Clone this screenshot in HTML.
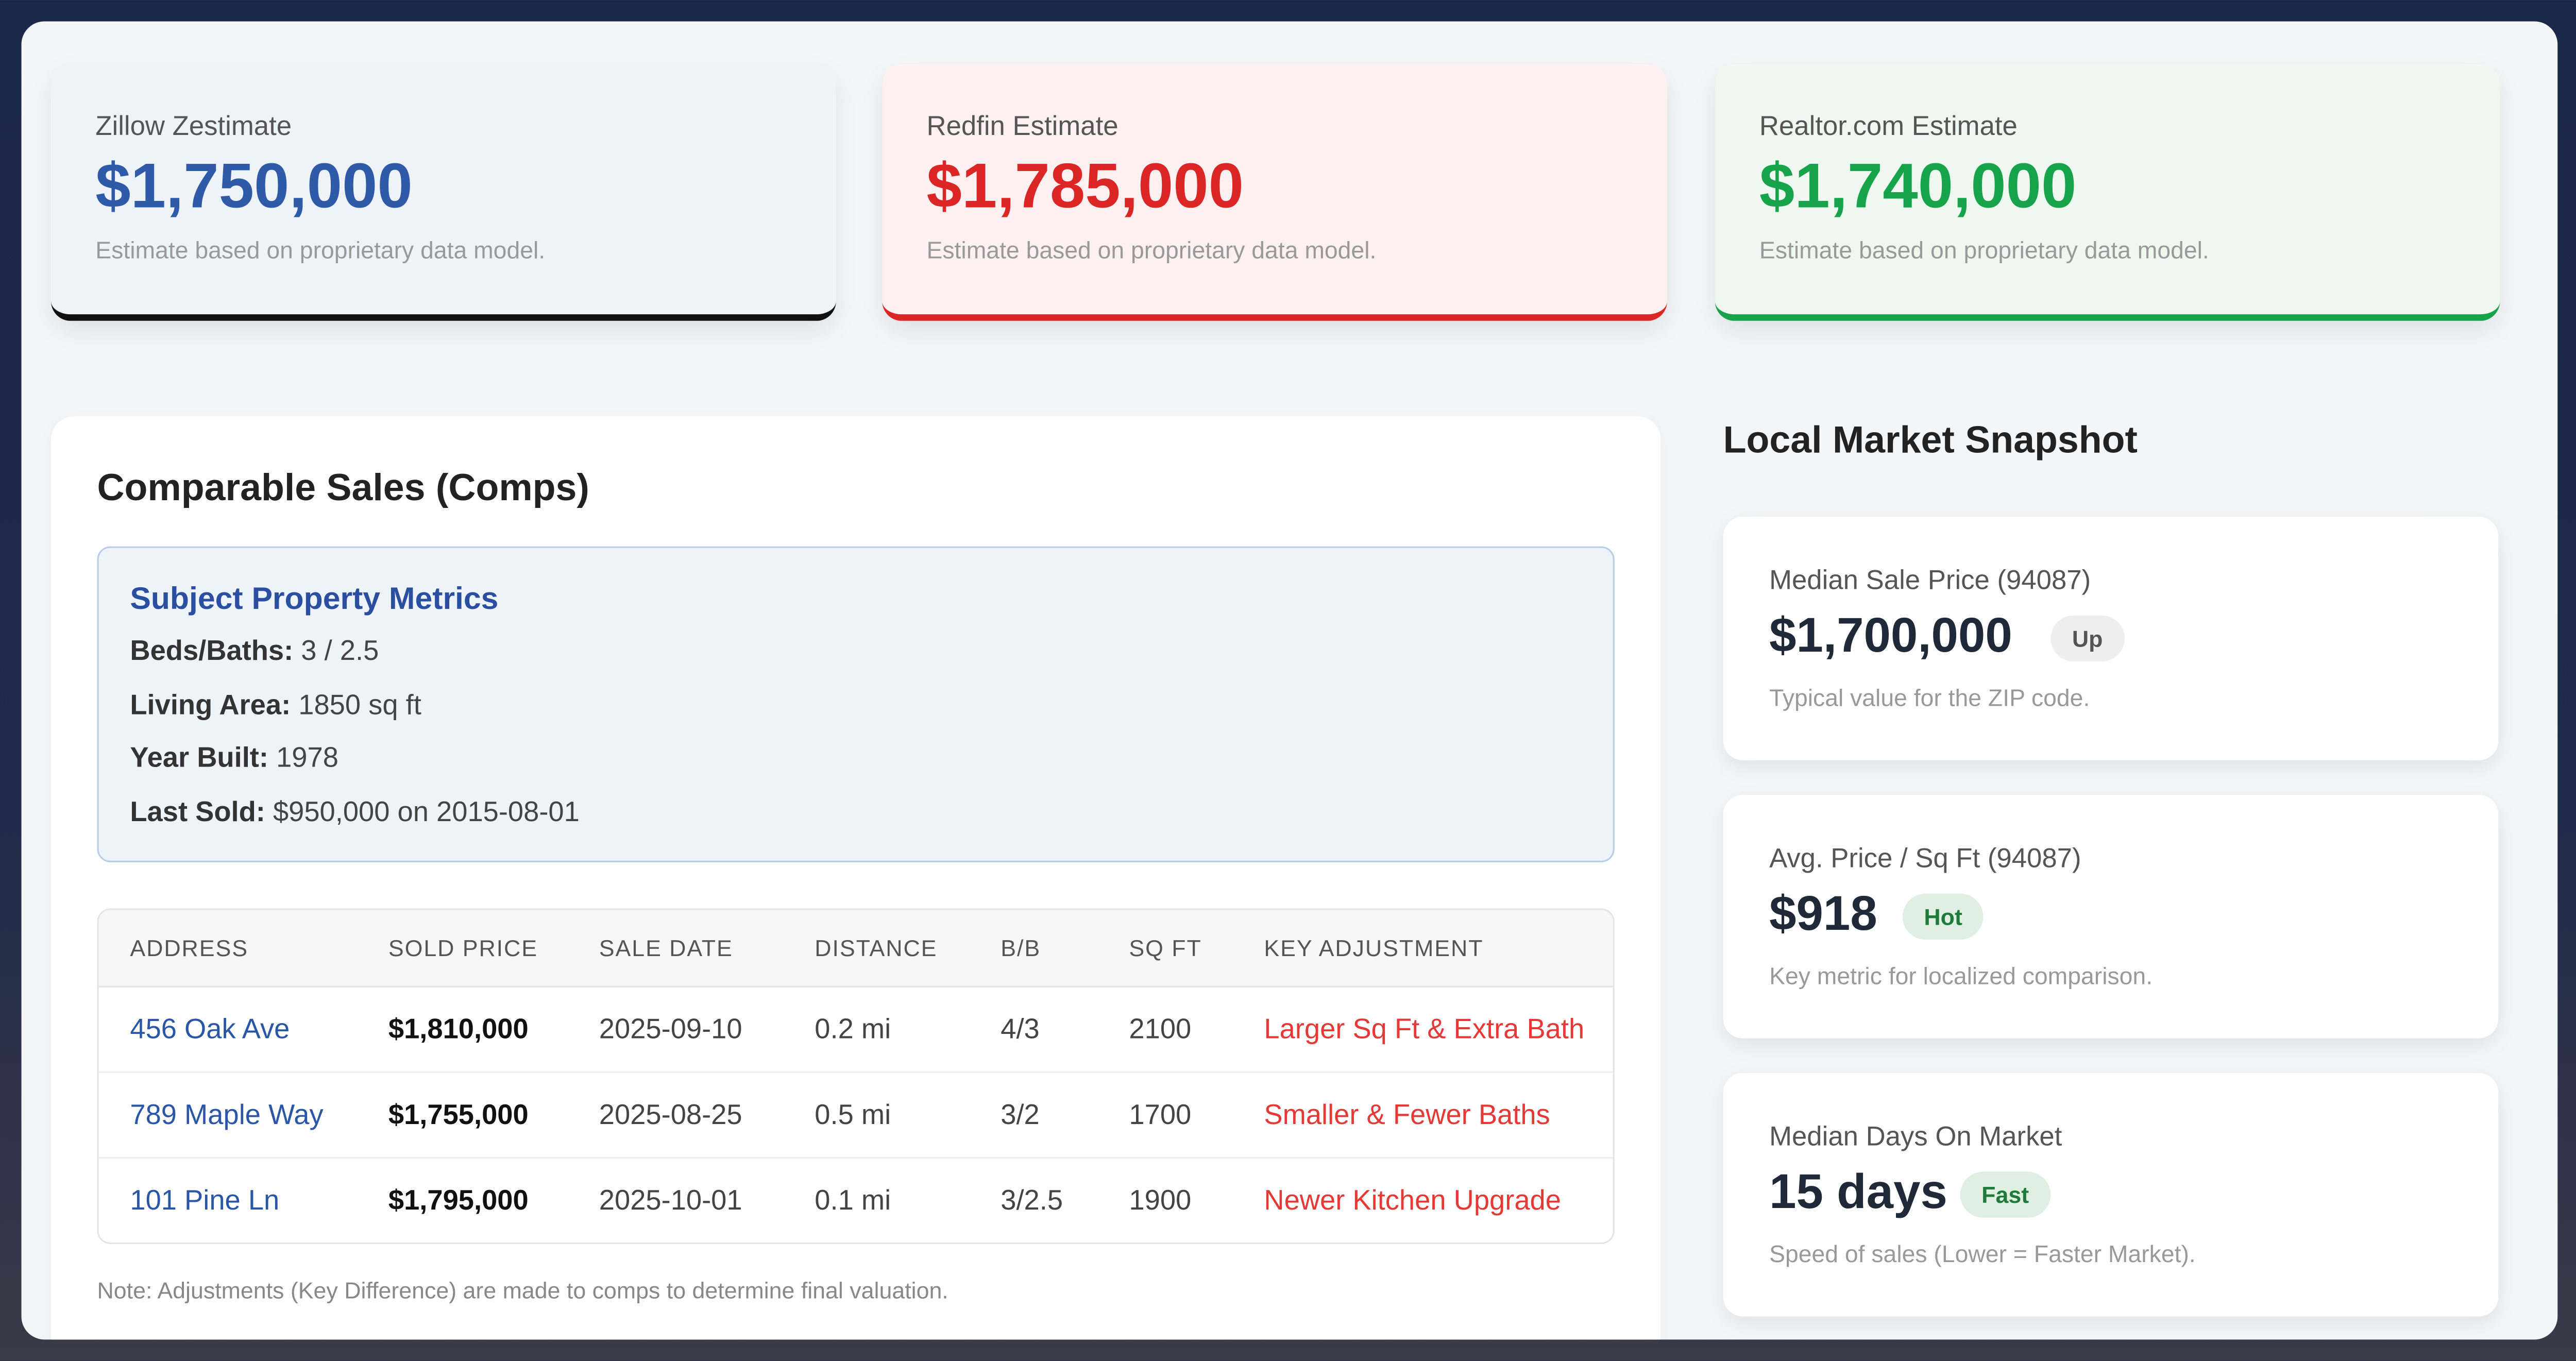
<!DOCTYPE html>
<html><head><meta charset="utf-8"><style>
html,body{margin:0;padding:0;}
body{width:5009px;height:2642px;overflow:hidden;background:linear-gradient(180deg,#1c2848 0%,#202a4a 60%,#3a3a48 100%);font-family:"Liberation Sans",sans-serif;}
#s{position:absolute;left:0;top:0;width:1568px;height:827px;transform:scale(3.1945);transform-origin:0 0;}
.a{position:absolute;white-space:nowrap;}
.win{position:absolute;left:13px;top:13px;width:1541px;height:801px;background:#f4f5f6;border-radius:14px;overflow:hidden;}
.est{position:absolute;top:26px;width:477px;height:152px;border-radius:12px;box-shadow:0 6px 14px rgba(0,0,0,.08);}
.est .l{position:absolute;left:27px;top:29px;font-size:16.5px;color:#555;}
.est .v{position:absolute;left:27px;top:53px;font-size:38.5px;font-weight:bold;}
.est .d{position:absolute;left:27px;top:106px;font-size:14.5px;color:#999;}
.panel{position:absolute;left:18px;top:240px;width:978px;height:600px;background:#fff;border-radius:14px;box-shadow:0 2px 8px rgba(0,0,0,.04);}
.mc{position:absolute;left:1034px;width:471px;height:148px;background:#fff;border-radius:12px;box-shadow:0 4px 12px rgba(0,0,0,.08);}
.mc .l{position:absolute;left:28px;top:30px;font-size:16.5px;color:#555;}
.mc .v{position:absolute;left:28px;top:56px;font-size:29.5px;font-weight:bold;color:#1f2937;}
.mc .b{position:absolute;top:60px;height:28px;line-height:28px;border-radius:14px;font-size:14px;font-weight:bold;padding:0 13px;}
.mc .d{position:absolute;left:28px;top:103px;font-size:14.5px;color:#999;}
.th{font-size:14px;color:#555;letter-spacing:.6px;}
.td{font-size:17px;color:#444;}
</style></head><body><div id="s">
<div class="win">
 <div class="est" style="left:18px;background:#eef3fa;border-bottom:4px solid #111;">
  <div class="l">Zillow Zestimate</div><div class="v" style="color:#2f5aa8">$1,750,000</div><div class="d">Estimate based on proprietary data model.</div></div>
 <div class="est" style="left:523px;background:#fdf0f0;border-bottom:4px solid #dc2626;">
  <div class="l">Redfin Estimate</div><div class="v" style="color:#dc2626">$1,785,000</div><div class="d">Estimate based on proprietary data model.</div></div>
 <div class="est" style="left:1029px;background:#eef8f0;border-bottom:4px solid #16a34a;">
  <div class="l">Realtor.com Estimate</div><div class="v" style="color:#16a34a">$1,740,000</div><div class="d">Estimate based on proprietary data model.</div></div>

 <div class="panel">
  <div class="a" style="left:28px;top:30px;font-size:23px;font-weight:bold;color:#222">Comparable Sales (Comps)</div>
  <div class="a" style="left:28px;top:79px;width:920px;height:190px;background:#eef3fa;border:1px solid #b9cde8;border-radius:8px;">
   <div class="a" style="left:19px;top:21px;font-size:19px;font-weight:bold;color:#2a4fa0">Subject Property Metrics</div>
   <div class="a td" style="left:19px;top:53px;color:#444"><b style="color:#333">Beds/Baths:</b> 3 / 2.5</div>
   <div class="a td" style="left:19px;top:86px"><b style="color:#333">Living Area:</b> 1850 sq ft</div>
   <div class="a td" style="left:19px;top:118px"><b style="color:#333">Year Built:</b> 1978</div>
   <div class="a td" style="left:19px;top:151px"><b style="color:#333">Last Sold:</b> $950,000 on 2015-08-01</div>
  </div>
  <div class="a" style="left:28px;top:299px;width:920px;height:202px;border:1px solid #e5e5e5;border-radius:8px;overflow:hidden;">
   <div class="a" style="left:0;top:0;width:920px;height:46px;background:#f7f7f7;border-bottom:1px solid #e3e3e3"></div>
   <div class="a" style="left:0;top:98px;width:920px;height:1px;background:#eee"></div>
   <div class="a" style="left:0;top:150px;width:920px;height:1px;background:#eee"></div>
   <div class="a th" style="left:19px;top:15px">ADDRESS</div>
   <div class="a th" style="left:176px;top:15px">SOLD PRICE</div>
   <div class="a th" style="left:304px;top:15px">SALE DATE</div>
   <div class="a th" style="left:435px;top:15px">DISTANCE</div>
   <div class="a th" style="left:548px;top:15px">B/B</div>
   <div class="a th" style="left:626px;top:15px">SQ FT</div>
   <div class="a th" style="left:708px;top:15px">KEY ADJUSTMENT</div>

   <div class="a td" style="left:19px;top:63px;color:#2a56a8">456 Oak Ave</div>
   <div class="a td" style="left:176px;top:63px;color:#111;font-weight:bold">$1,810,000</div>
   <div class="a td" style="left:304px;top:63px">2025-09-10</div>
   <div class="a td" style="left:435px;top:63px">0.2 mi</div>
   <div class="a td" style="left:548px;top:63px">4/3</div>
   <div class="a td" style="left:626px;top:63px">2100</div>
   <div class="a td" style="left:708px;top:63px;color:#e53935">Larger Sq Ft &amp; Extra Bath</div>

   <div class="a td" style="left:19px;top:115px;color:#2a56a8">789 Maple Way</div>
   <div class="a td" style="left:176px;top:115px;color:#111;font-weight:bold">$1,755,000</div>
   <div class="a td" style="left:304px;top:115px">2025-08-25</div>
   <div class="a td" style="left:435px;top:115px">0.5 mi</div>
   <div class="a td" style="left:548px;top:115px">3/2</div>
   <div class="a td" style="left:626px;top:115px">1700</div>
   <div class="a td" style="left:708px;top:115px;color:#e53935">Smaller &amp; Fewer Baths</div>

   <div class="a td" style="left:19px;top:167px;color:#2a56a8">101 Pine Ln</div>
   <div class="a td" style="left:176px;top:167px;color:#111;font-weight:bold">$1,795,000</div>
   <div class="a td" style="left:304px;top:167px">2025-10-01</div>
   <div class="a td" style="left:435px;top:167px">0.1 mi</div>
   <div class="a td" style="left:548px;top:167px">3/2.5</div>
   <div class="a td" style="left:626px;top:167px">1900</div>
   <div class="a td" style="left:708px;top:167px;color:#e53935">Newer Kitchen Upgrade</div>
  </div>
  <div class="a" style="left:28px;top:523px;font-size:14px;color:#888">Note: Adjustments (Key Difference) are made to comps to determine final valuation.</div>
 </div>

 <div class="a" style="left:1034px;top:241px;font-size:23px;font-weight:bold;color:#222">Local Market Snapshot</div>
 <div class="mc" style="top:301px"><div class="l">Median Sale Price (94087)</div><div class="v">$1,700,000</div><div class="b" style="left:199px;background:#efefef;color:#555">Up</div><div class="d">Typical value for the ZIP code.</div></div>
 <div class="mc" style="top:470px"><div class="l">Avg. Price / Sq Ft (94087)</div><div class="v">$918</div><div class="b" style="left:109px;background:#dff0e3;color:#1e7b3a">Hot</div><div class="d">Key metric for localized comparison.</div></div>
 <div class="mc" style="top:639px"><div class="l">Median Days On Market</div><div class="v">15 days</div><div class="b" style="left:144px;background:#dff0e3;color:#1e7b3a">Fast</div><div class="d">Speed of sales (Lower = Faster Market).</div></div>
</div>
</div></body></html>
